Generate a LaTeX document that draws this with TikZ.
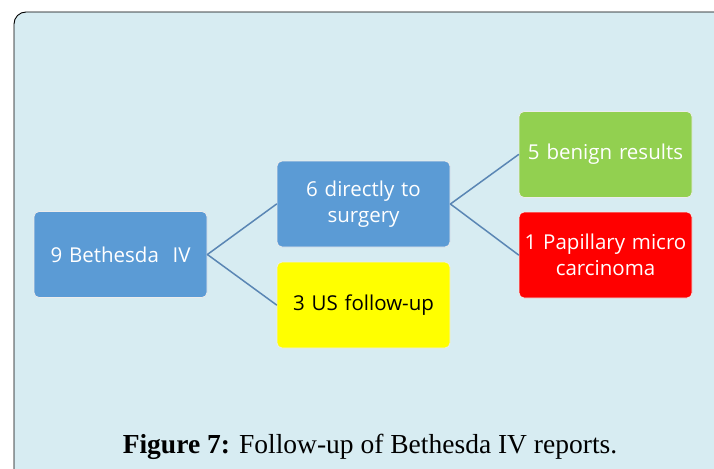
\documentclass[tikz,border=0pt]{standalone}
\usepackage{fontspec}
\setmainfont{Liberation Serif}
\newfontfamily\boxfont{Open Sans}
\usepackage{xcolor}
\definecolor{panelblue}{RGB}{215,236,242}
\definecolor{boxblue}{RGB}{91,155,213}
\definecolor{boxgreen}{RGB}{146,208,80}
\definecolor{boxyellow}{RGB}{255,255,0}
\definecolor{linkblue}{RGB}{90,134,180}
\begin{document}
\begin{tikzpicture}[x=1pt,y=-1pt,line cap=round]
	\tikzstyle{stage}=[draw=white!85!gray,line width=.8pt,rounded corners=5pt,minimum width=173pt,minimum height=86pt,text width=169pt,align=center,inner sep=2pt,font=\boxfont\fontsize{20.5}{26}\selectfont,text=white];
	\tikzstyle{link}=[draw=linkblue,line width=1.5pt];
	\useasboundingbox (0,0) rectangle (714,468);
	\draw[fill=panelblue,line width=.9pt,rounded corners=12pt] (14,12) rectangle (740,500);
	\node[stage,fill=boxblue] (total) at (120.5,254.5) {9 Bethesda\ \ IV};
	\node[stage,fill=boxblue] (surgery) at (363.5,204) {6 directly to\\surgery};
	\node[stage,fill=boxyellow,text=black] (follow) at (363.5,305) {3 US follow-up};
	\node[stage,fill=boxgreen] (benign) at (605.5,154.5) {5 benign results};
	\node[stage,fill=red] (papillary) at (605.5,255) {1 Papillary micro\\carcinoma};
	\draw[link] (total.east) -- (surgery.west);
	\draw[link] (total.east) -- (follow.west);
	\draw[link] (surgery.east) -- (benign.west);
	\draw[link] (surgery.east) -- (papillary.west);
	\node[font=\fontsize{27.5}{30}\selectfont,anchor=base] (caption) at (370,453) {\textbf{Figure 7:} Follow-up of Bethesda IV reports.};
\end{tikzpicture}
\end{document}
